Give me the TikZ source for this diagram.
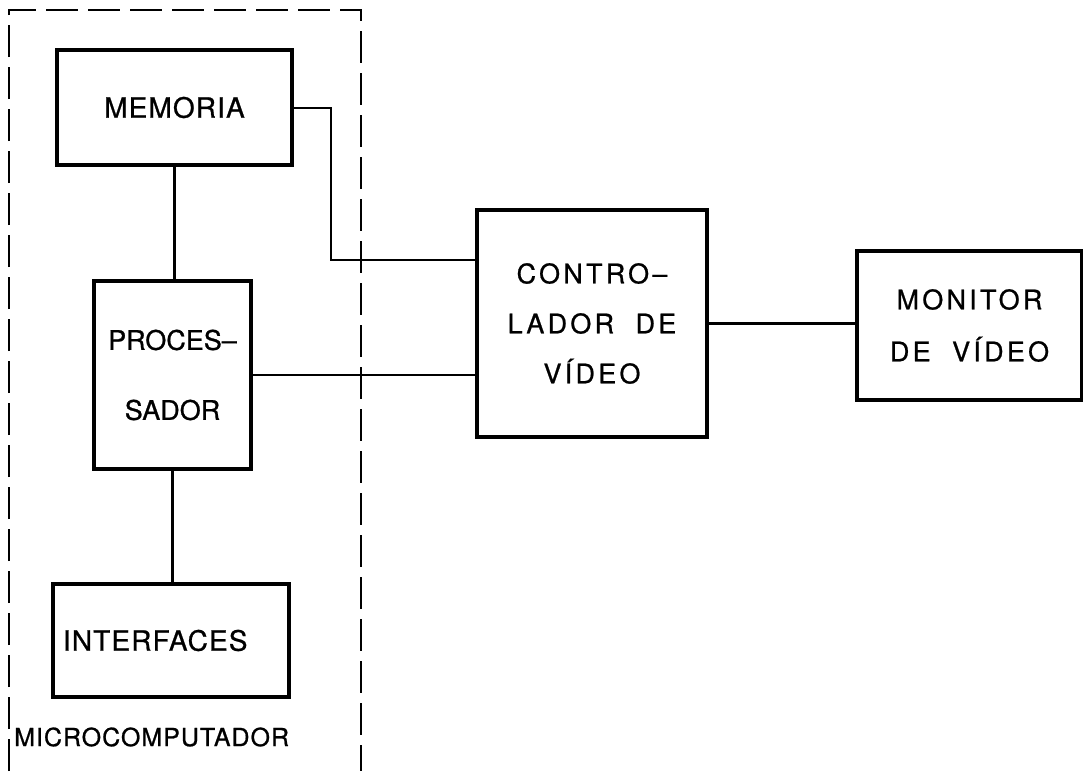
\documentclass[tikz,border=0pt]{standalone}
\usepackage{fontspec}
\setmainfont[FakeBold=0.8]{TeX Gyre Heros}
\newfontfamily\spacedA[LetterSpace=4,FakeBold=0.8]{TeX Gyre Heros}
\newfontfamily\spacedB[LetterSpace=12,FakeBold=0.8]{TeX Gyre Heros}
\begin{document}
\begin{tikzpicture}[x=1pt,y=-1pt,
  box/.style={draw, line width=3.8pt, inner sep=0pt, align=center},
  conn/.style={line width=2.2pt},
  frame/.style={line width=2.5pt, dash pattern=on 32pt off 10pt}]
\useasboundingbox (0,0) rectangle (1083,771);
\fill[white] (0,0) rectangle (1083,771);
% frame
\coordinate (f1) at (9,771);
\coordinate (f2) at (9,10);
\coordinate (f3) at (361,10);
\coordinate (f4) at (361,771);
\draw[frame] (f1) -- (f2) -- (f3) -- (f4);
% boxes
\node[box, minimum width=235, minimum height=115,
      font=\fontsize{28}{50}\selectfont\spacedA] (mem) at (174.5,107.5) {MEMORIA};
\node[box, minimum width=157, minimum height=188,
      font=\fontsize{27}{70}\selectfont] (proc) at (172.5,375) {PROCES–\\SADOR};
\node[box, minimum width=236, minimum height=113, text width=216, align=left,
      inner xsep=10pt, font=\fontsize{28}{50}\selectfont\spacedA] (intf) at (171,640.5) {INTERFACES};
\node[box, minimum width=230, minimum height=227,
      font=\fontsize{27}{50}\selectfont\spacedB] (ctrl) at (592,323.5) {CONTRO–\\LADOR\ \ DE\\VÍDEO};
\node[box, minimum width=225, minimum height=149,
      font=\fontsize{27}{52}\selectfont\spacedB] (mon) at (969.5,325.5) {MONITOR\\DE\ \ VÍDEO};
\node[anchor=west, inner sep=0pt, font=\fontsize{25}{30}\selectfont\spacedA] (mc) at (14,737) {MICROCOMPUTADOR};
% connectors
\coordinate (b1) at (331,108);
\coordinate (b2) at (331,260);
\draw[conn] (mem.south) -- (mem.south |- proc.north);
\draw[conn] (proc.south) -- (proc.south |- intf.north);
\draw[conn] (mem.east |- b1) -- (b1) -- (b2) -- (b2 -| ctrl.west);
\draw[conn] (proc.east) -- (proc.east -| ctrl.west);
\draw[conn] (ctrl.east) -- (ctrl.east -| mon.west);
\end{tikzpicture}
\end{document}
